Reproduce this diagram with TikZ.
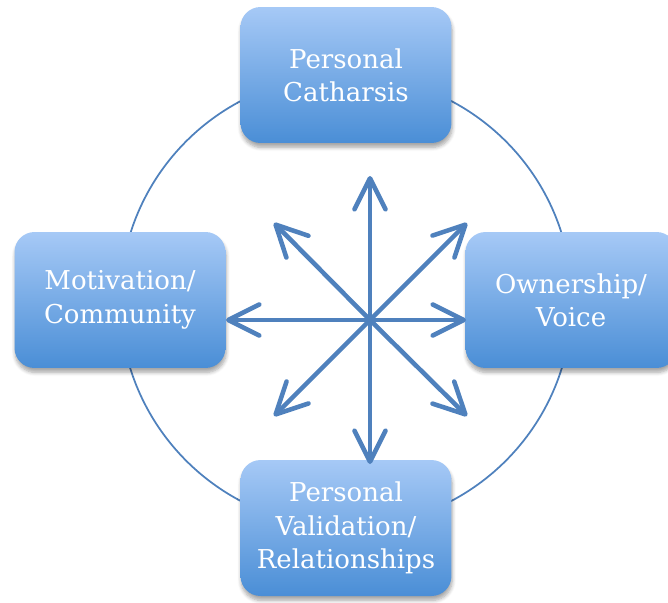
\documentclass[tikz,border=0pt]{standalone}
\usepackage{fontspec}
\setmainfont{DejaVu Serif}
\usepackage{tikz}
\usetikzlibrary{arrows.meta,shadows.blur}

\definecolor{ringblue}{RGB}{79,129,189}
\definecolor{boxtop}{RGB}{166,201,246}
\definecolor{boxbot}{RGB}{74,142,214}

\begin{document}
\begin{tikzpicture}[x=0.02cm,y=-0.02cm,
    topic/.style={rounded corners=0.4cm, minimum width=4.22cm, minimum height=2.72cm,
        top color=boxtop, bottom color=boxbot, text=white, align=center,
        font=\fontsize{14.8}{19}\selectfont,
        blur shadow={shadow xshift=0.4pt, shadow yshift=-2.5pt, shadow blur steps=6, shadow opacity=35}},
    spoke/.style={draw=ringblue, line width=2.6pt, line cap=round,
        -{Straight Barb[length=6.2mm, width=6.2mm, round]}}]
    \useasboundingbox (0,0) rectangle (668,602);
    \draw[ringblue, line width=1pt] (346,301) circle[radius=4.52cm];
    \node[topic] (cath) at (346,75) {Personal\\Catharsis};
    \node[topic] (motiv) at (120,300) {Motivation/\\Community};
    \node[topic] (voice) at (571,300) {Ownership/\\Voice};
    \node[topic] (valid) at (346,528) {Personal\\Validation/\\Relationships};
    \coordinate (hub) at (370,320);
    \coordinate (n) at (370,176);
    \coordinate (s) at (370,464);
    \coordinate (w) at (226,320);
    \coordinate (e) at (466,320);
    \coordinate (nw) at (274,223);
    \coordinate (ne) at (467,223);
    \coordinate (sw) at (274,416);
    \coordinate (se) at (467,416);
    \foreach \tip in {n,s,w,e,nw,ne,sw,se}
        \draw[spoke] (hub) -- (\tip);
\end{tikzpicture}
\end{document}
